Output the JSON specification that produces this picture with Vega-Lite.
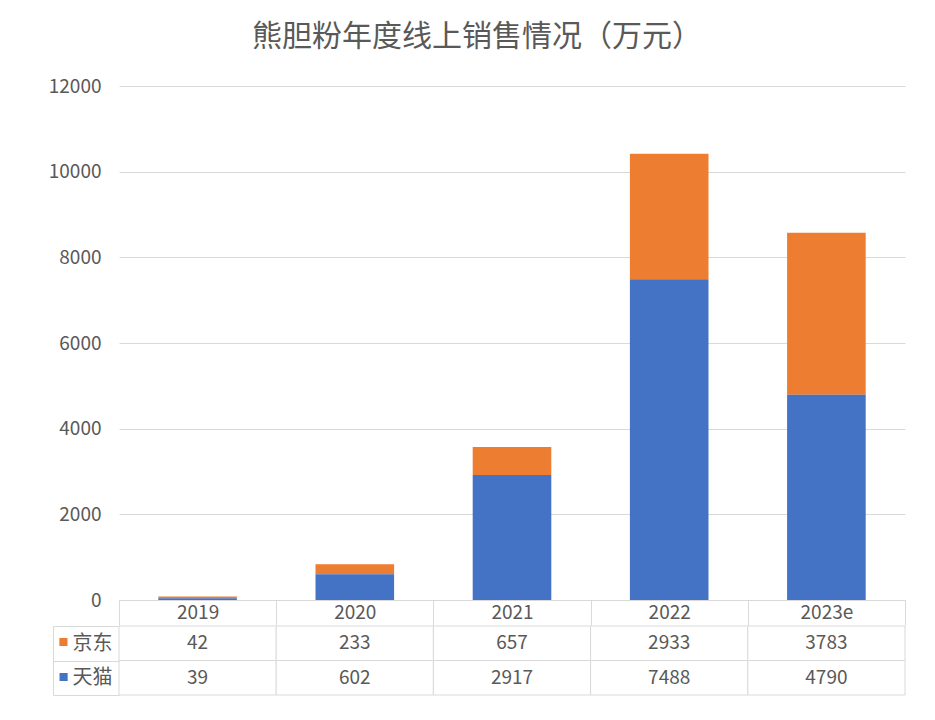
{
  "$schema": "https://vega.github.io/schema/vega-lite/v6.json",
  "background": "white",
  "padding": {"left": 48, "top": 22, "right": 30, "bottom": 20},
  "config": {
    "font": "Noto Sans CJK SC",
    "view": {"stroke": null}
  },
  "title": {
    "text": "熊胆粉年度线上销售情况（万元）",
    "fontSize": 30,
    "fontWeight": "normal",
    "color": "#595959",
    "anchor": "middle",
    "offset": 25
  },
  "data": {
    "values": [
      {"year": "2019", "platform": "京东", "value": 42},
      {"year": "2019", "platform": "天猫", "value": 39},
      {"year": "2020", "platform": "京东", "value": 233},
      {"year": "2020", "platform": "天猫", "value": 602},
      {"year": "2021", "platform": "京东", "value": 657},
      {"year": "2021", "platform": "天猫", "value": 2917},
      {"year": "2022", "platform": "京东", "value": 2933},
      {"year": "2022", "platform": "天猫", "value": 7488},
      {"year": "2023e", "platform": "京东", "value": 3783},
      {"year": "2023e", "platform": "天猫", "value": 4790}
    ]
  },
  "spacing": -11,
  "vconcat": [
    {
      "width": 786,
      "height": 514,
      "mark": {"type": "bar", "width": {"band": 0.5}},
      "encoding": {
        "x": {
          "field": "year", "type": "nominal", "sort": null,
          "scale": {"paddingInner": 0, "paddingOuter": 0},
          "axis": {
            "title": null, "labelAngle": 0, "tickBand": "extent", "tickSize": 25,
            "tickColor": "#d9d9d9", "domainColor": "#d9d9d9", "labelPadding": -12.5,
            "labelBaseline": "middle", "labelFontSize": 19, "labelColor": "#595959",
            "minExtent": 17, "maxExtent": 17
          }
        },
        "y": {
          "field": "value", "type": "quantitative", "stack": "zero",
          "scale": {"domain": [0, 12000]},
          "axis": {
            "title": null, "values": [0, 2000, 4000, 6000, 8000, 10000, 12000],
            "format": "d", "domain": false, "ticks": false, "gridColor": "#d9d9d9",
            "labelPadding": 18, "labelFontSize": 19, "labelColor": "#595959",
            "minExtent": 66, "maxExtent": 66
          }
        },
        "color": {
          "field": "platform", "type": "nominal",
          "scale": {"domain": ["京东", "天猫"], "range": ["#ED7D31", "#4472C4"]},
          "legend": null
        },
        "order": {"field": "platform", "sort": "descending"}
      }
    },
    {
      "width": 786,
      "height": 69,
      "encoding": {
        "x": {"field": "year", "type": "nominal", "sort": null, "axis": null}
      },
      "layer": [
        {
          "mark": {"type": "rect", "fill": "white", "stroke": "#d9d9d9", "strokeWidth": 1},
          "encoding": {
            "y": {
              "field": "platform", "type": "nominal", "sort": ["京东", "天猫"],
              "axis": {
                "title": null, "orient": "left", "tickBand": "extent", "tickSize": 66,
                "tickColor": "#d9d9d9", "domain": false, "labelPadding": -59,
                "labelFontSize": 20, "labelColor": "#595959",
                "minExtent": 66, "maxExtent": 66
              }
            }
          }
        },
        {
          "mark": {"type": "text", "fontSize": 19, "color": "#595959"},
          "encoding": {
            "y": {
              "field": "platform", "type": "nominal", "sort": ["京东", "天猫"],
              "axis": {
                "title": null, "orient": "left", "offset": 66, "ticks": false,
                "domain": true, "domainColor": "#d9d9d9", "labelPadding": -15,
                "labelExpr": "'■'", "labelFontSize": 10,
                "labelColor": {"condition": {"test": "datum.value === '京东'", "value": "#ED7D31"}, "value": "#4472C4"},
                "minExtent": 0, "maxExtent": 0
              }
            },
            "text": {"field": "value", "type": "quantitative"}
          }
        }
      ],
      "resolve": {"axis": {"y": "independent"}}
    }
  ]
}
